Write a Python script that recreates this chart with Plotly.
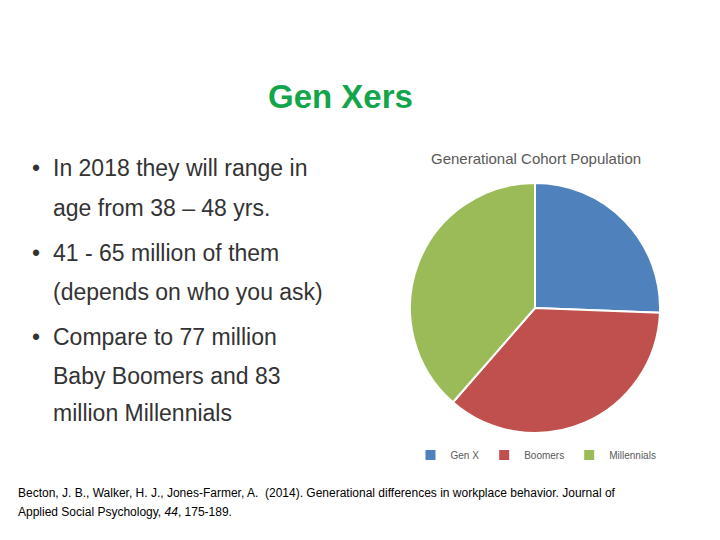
import plotly.graph_objects as go

labels = ["Gen X", "Boomers", "Millennials"]
values = [25.6, 35.8, 38.6]
colors = ["#4F81BD", "#C0504D", "#9BBB59"]

bullet_lines = [
    ("•", "In 2018 they will range in"),
    ("", "age from 38 – 48 yrs."),
    ("•", "41 - 65 million of them"),
    ("", "(depends on who you ask)"),
    ("•", "Compare to 77 million"),
    ("", "Baby Boomers and 83"),
    ("", "million Millennials"),
]
bullet_y = [168, 208, 253, 292, 337, 376, 413]

citation = [
    "Becton, J. B., Walker, H. J., Jones-Farmer, A.  (2014). Generational differences in workplace behavior. Journal of",
    "Applied Social Psychology, <i>44</i>, 175-189.",
]

W, H = 720, 540
OFF = 8  # page body margin


def px(x):
    return (x - OFF) / W


def py(y):
    return 1 - (y - OFF) / H


fig = go.Figure(go.Pie(
    labels=labels, values=values, sort=False, direction="clockwise", rotation=0,
    marker=dict(colors=colors, line=dict(color="white", width=2)),
    textinfo="none", hoverinfo="label+percent",
    domain=dict(x=[px(410), px(660)], y=[py(433), py(183)]),
))

ann = [dict(text="<b>Gen Xers</b>", x=px(340), y=py(97), font=dict(size=33, color="#13A54B"))]
for (b, t), yy in zip(bullet_lines, bullet_y):
    if b:
        ann.append(dict(text=b, x=px(30), y=py(yy), xanchor="left", font=dict(size=23, color="#333")))
    ann.append(dict(text=t, x=px(51), y=py(yy), xanchor="left", font=dict(size=23, color="#333")))
ann.append(dict(text="Generational Cohort Population", x=px(536), y=py(158), font=dict(size=15, color="#595959")))
for i, line in enumerate(citation):
    ann.append(dict(text=line, x=px(16), y=py(493 + 19 * i), xanchor="left", font=dict(size=12, color="#000")))
for a in ann:
    a.update(xref="paper", yref="paper", showarrow=False, yanchor="middle")
    a.setdefault("xanchor", "center")

fig.update_layout(
    width=W, height=H, margin=dict(l=0, r=0, t=0, b=0),
    paper_bgcolor="white", font=dict(family="Liberation Sans, Arial"),
    annotations=ann,
    legend=dict(orientation="h", x=px(536), xanchor="center", y=py(455), yanchor="middle",
                font=dict(size=10, color="#595959"), itemwidth=30),
)
fig.write_html("out.html")
